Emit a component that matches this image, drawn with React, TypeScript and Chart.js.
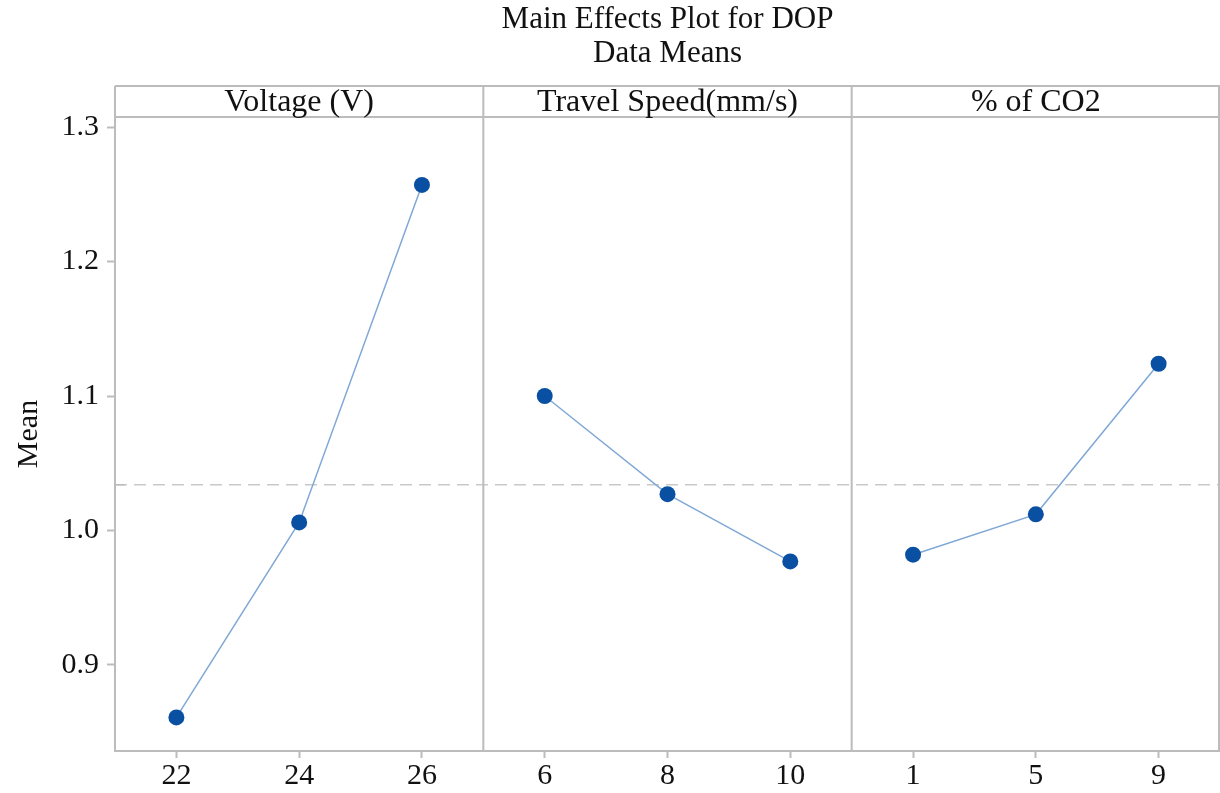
import React, { useEffect, useRef } from "react";
import { Chart, registerables } from "chart.js";

Chart.register(...registerables);

const TITLE_LINES = ["Main Effects Plot for DOP", "Data Means"];
const FACTORS = ["Voltage (V)", "Travel Speed(mm/s)", "% of CO2"];
const VOLTAGE_LEVELS = ["22", "24", "26"];
const SPEED_LEVELS = ["6", "8", "10"];
const CO2_LEVELS = ["1", "5", "9"];
const VOLTAGE_MEANS = [0.861, 1.006, 1.257];
const SPEED_MEANS = [1.1, 1.027, 0.977];
const CO2_MEANS = [0.982, 1.012, 1.124];
const GRAND_MEAN = [1.034];
const Y_TICKS = [0.9, 1.0, 1.1, 1.2, 1.3];
const Y_RANGE = [0.836, 1.3075];
const Y_TITLE = "Mean";

const LEVELS = [VOLTAGE_LEVELS, SPEED_LEVELS, CO2_LEVELS];
const MEANS = [VOLTAGE_MEANS, SPEED_MEANS, CO2_MEANS];

const FONT = '"Liberation Serif", "Times New Roman", serif';
const GRAY = "#bcbcbc";
const POINT = "#0a50a2";
const LINE = "#80a8d6";

const xLabelAt = (v: number) => {
  const idx = Math.round(v - 0.5);
  const p = Math.floor(idx / 3);
  const i = idx % 3;
  return LEVELS[p] && LEVELS[p][i] !== undefined ? LEVELS[p][i] : "";
};

const framePlugin = {
  id: "mainEffectsFrame",
  beforeDatasetsDraw(chart: any) {
    const { ctx, chartArea: ca, scales } = chart;
    const ym = scales.y.getPixelForValue(GRAND_MEAN[0]);
    ctx.save();
    ctx.strokeStyle = "#c9c9c9";
    ctx.lineWidth = 1.5;
    ctx.setLineDash([12, 7]);
    ctx.beginPath();
    ctx.moveTo(ca.left, ym);
    ctx.lineTo(ca.right, ym);
    ctx.stroke();
    ctx.setLineDash([]);
    ctx.strokeStyle = GRAY;
    ctx.beginPath();
    ctx.moveTo(ca.left, ym);
    ctx.lineTo(ca.left + 10, ym);
    ctx.stroke();
    ctx.restore();
  },
  afterDraw(chart: any) {
    const { ctx, chartArea: ca, scales } = chart;
    const x = scales.x;
    const headerTop = ca.top - 31;
    const bounds = [0, 3, 6, 9].map((v) => x.getPixelForValue(v));
    ctx.save();
    ctx.strokeStyle = GRAY;
    ctx.lineWidth = 2;
    ctx.beginPath();
    bounds.forEach((bx: number, k: number) => {
      const px = k === 3 ? Math.min(bx, chart.width - 1) : bx;
      ctx.moveTo(px, headerTop);
      ctx.lineTo(px, ca.bottom);
    });
    ctx.moveTo(ca.left, headerTop);
    ctx.lineTo(ca.right, headerTop);
    ctx.moveTo(ca.left, ca.top);
    ctx.lineTo(ca.right, ca.top);
    ctx.moveTo(ca.left - 1, ca.bottom);
    ctx.lineTo(ca.right, ca.bottom);
    ctx.stroke();

    ctx.fillStyle = "#111";
    ctx.textAlign = "center";
    ctx.textBaseline = "alphabetic";
    ctx.font = `32px ${FONT}`;
    FACTORS.forEach((f, k) => {
      ctx.fillText(f, (bounds[k] + bounds[k + 1]) / 2, ca.top - 6);
    });

    const cx = (ca.left + ca.right) / 2;
    ctx.font = `31px ${FONT}`;
    ctx.fillText(TITLE_LINES[0], cx, 28);
    ctx.fillText(TITLE_LINES[1], cx, 62);

    ctx.save();
    ctx.font = `30px ${FONT}`;
    ctx.translate(37, (ca.top + ca.bottom) / 2);
    ctx.rotate(-Math.PI / 2);
    ctx.fillText(Y_TITLE, 0, 0);
    ctx.restore();
    ctx.restore();
  },
};

export default function App() {
  const ref = useRef<HTMLCanvasElement | null>(null);

  useEffect(() => {
    if (!ref.current) return;
    const datasets = MEANS.map((vals, p) => ({
      label: FACTORS[p],
      data: vals.map((v, i) => ({ x: p * 3 + i + 0.5, y: v })),
      borderColor: LINE,
      borderWidth: 1.5,
      pointRadius: 8,
      pointHoverRadius: 8,
      pointBackgroundColor: POINT,
      pointBorderColor: POINT,
      pointBorderWidth: 0,
      tension: 0,
      fill: false,
    }));

    const chart = new Chart(ref.current, {
      type: "line",
      data: { datasets },
      options: {
        animation: false,
        responsive: false,
        devicePixelRatio: 1,
        layout: { autoPadding: false, padding: { top: 117, left: 0, right: 0, bottom: 0 } },
        plugins: {
          legend: { display: false },
          title: { display: false },
          tooltip: { enabled: false },
        },
        scales: {
          x: {
            type: "linear",
            min: 0,
            max: 9,
            afterFit: (s: any) => {
              s.height = 42;
            },
            afterBuildTicks: (s: any) => {
              s.ticks = [0.5, 1.5, 2.5, 3.5, 4.5, 5.5, 6.5, 7.5, 8.5].map((v) => ({ value: v }));
            },
            border: { display: false },
            grid: {
              drawOnChartArea: false,
              drawTicks: true,
              tickLength: 7,
              tickColor: GRAY,
              tickWidth: 2,
            },
            ticks: {
              padding: 0,
              autoSkip: false,
              maxRotation: 0,
              color: "#111",
              font: { family: FONT, size: 30 },
              callback: (v: any) => xLabelAt(Number(v)),
            },
          },
          y: {
            type: "linear",
            min: Y_RANGE[0],
            max: Y_RANGE[1],
            afterFit: (s: any) => {
              s.width = 115;
            },
            afterBuildTicks: (s: any) => {
              s.ticks = Y_TICKS.map((v) => ({ value: v }));
            },
            border: { display: false },
            grid: {
              drawOnChartArea: false,
              drawTicks: true,
              tickLength: 8,
              tickColor: GRAY,
              tickWidth: 2,
            },
            ticks: {
              padding: 8,
              color: "#111",
              font: { family: FONT, size: 30 },
              callback: (v: any) => Number(v).toFixed(1),
            },
          },
        },
      },
      plugins: [framePlugin],
    });
    return () => chart.destroy();
  }, []);

  return (
    <div style={{ position: "absolute", left: 0, top: 0, width: 1220, height: 793, background: "#fff" }}>
      <canvas ref={ref} width={1220} height={793} />
    </div>
  );
}
